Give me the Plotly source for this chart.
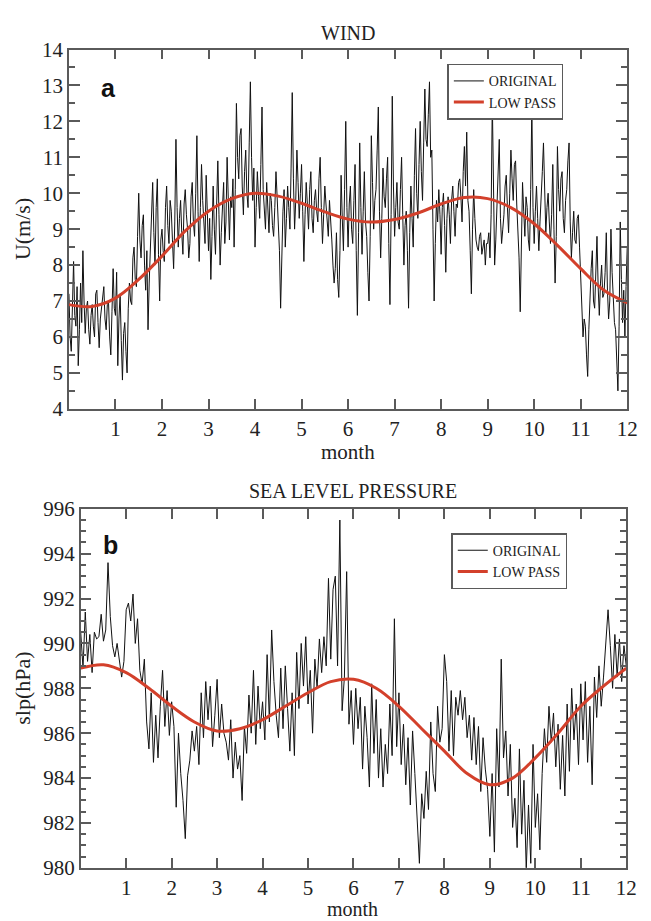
import numpy as np
import plotly.graph_objects as go

# ---------------- data ----------------
# WIND original, 40 samples per month (month 0 .. 12)
wind_original = [
    # month 0
    7.2, 6.0, 5.6, 7.1, 8.1, 6.6, 6.3, 7.4, 5.2, 6.2, 7.5, 6.4, 8.4, 7.0, 6.1, 6.8, 7.0, 6.2, 5.8, 6.6,
    6.9, 6.3, 6.0, 7.2, 7.3, 6.4, 5.7, 6.5, 6.8, 7.1, 7.4, 6.5, 6.2, 6.9, 7.0, 6.0, 5.5, 6.7, 7.9, 6.8,
    # month 1
    6.6, 7.8, 5.2, 6.5, 7.2, 5.9, 4.8, 6.1, 6.4, 5.6, 5.0, 6.8, 7.5, 7.0, 6.9, 8.2, 8.5, 7.6, 7.4, 8.8,
    10.0, 8.7, 8.2, 9.1, 9.4, 8.0, 7.3, 8.4, 6.2, 7.5, 8.6, 9.4, 10.3, 8.9, 8.0, 9.6, 10.4, 8.3, 7.0, 8.7,
    # month 2
    9.0, 8.4, 8.1, 9.6, 10.2, 9.1, 8.6, 9.8, 9.5, 8.7, 7.9, 9.2, 11.5, 9.6, 8.5, 9.3, 9.8, 8.9, 8.3, 9.7,
    10.1, 9.4, 9.0, 8.2, 8.6, 9.9, 10.3, 9.2, 8.8, 10.0, 11.6, 9.5, 8.1, 9.6, 10.8, 9.8, 9.2, 8.6, 10.5, 9.7,
    # month 3
    8.4, 9.3, 7.6, 8.8, 10.2, 9.0, 8.3, 9.7, 10.9, 9.4, 8.0, 8.9, 9.5, 10.3, 8.6, 9.2, 11.0, 9.8, 8.7, 9.9,
    9.6, 10.4, 8.5, 10.1, 12.5, 11.0, 10.4, 11.6, 11.8, 10.2, 9.4, 10.6, 11.2, 10.0, 9.6, 11.4, 13.1, 11.0, 9.8, 10.7,
    # month 4
    8.5, 9.6, 10.6, 9.9, 9.3, 10.8, 12.4, 10.1, 9.4, 9.0, 10.3, 9.7, 8.9, 10.0, 9.8, 9.1, 8.8, 9.6, 10.6, 9.9,
    9.2, 8.4, 6.8, 8.7, 9.5, 10.1, 8.5, 9.3, 10.2, 9.6, 9.0, 10.7, 12.8, 10.4, 9.0, 9.8, 11.2, 10.3, 9.3, 10.0,
    # month 5
    10.8, 9.5, 8.1, 9.4, 10.3, 9.7, 9.0, 10.1, 10.6, 9.3, 8.9, 9.8, 10.1, 9.5, 9.2, 10.4, 11.0, 9.6, 8.6, 9.4,
    10.2, 9.7, 9.1, 8.8, 9.8, 9.0, 8.7, 8.0, 7.5, 7.9, 8.9, 7.6, 7.1, 8.4, 10.5, 9.3, 8.4, 10.1, 12.0, 9.6,
    # month 6
    8.5, 9.7, 10.2, 9.0, 8.6, 9.8, 10.8, 8.4, 6.6, 8.9, 11.4, 9.6, 8.3, 9.5, 10.6, 9.2, 8.8, 7.8, 7.0, 8.8,
    11.6, 10.3, 9.0, 9.8, 10.1, 11.2, 12.4, 9.5, 8.2, 9.3, 10.7, 9.9, 9.6, 10.4, 11.0, 8.6, 6.9, 9.4, 12.7, 10.2,
    # month 7
    8.8, 9.6, 10.3, 9.2, 9.0, 10.1, 11.0, 9.4, 8.0, 9.1, 9.5, 8.4, 6.8, 8.9, 10.2, 9.3, 8.5, 10.5, 11.8, 10.0,
    9.3, 10.8, 12.0, 10.6, 9.8, 11.4, 12.9, 11.5, 11.3, 12.2, 13.1, 11.0, 11.2, 9.0, 7.0, 8.6, 9.8, 9.2, 10.1, 9.4,
    # month 8
    8.3, 9.6, 10.0, 9.1, 7.8, 9.3, 9.9, 9.4, 8.6, 9.8, 10.2, 9.5, 8.8, 9.7, 9.6, 10.3, 10.4, 9.9, 9.2, 10.6,
    11.3, 10.2, 11.7, 9.8, 9.5, 8.4, 7.2, 9.0, 10.1, 9.3, 8.7, 8.5, 8.4, 8.8, 8.9, 8.3, 8.5, 8.7, 8.0, 8.6,
    # month 9
    8.6, 8.9, 8.2, 9.4, 12.6, 9.8, 8.0, 8.7, 9.8, 10.6, 11.5, 9.3, 8.6, 9.0, 9.4, 10.2, 10.5, 9.6, 8.9, 10.0,
    11.2, 10.4, 9.8, 10.8, 10.9, 9.7, 9.1, 8.2, 6.7, 8.9, 10.3, 9.5, 8.8, 9.9, 9.6, 8.7, 8.4, 10.1, 12.4, 9.6,
    # month 10
    8.6, 9.5, 10.2, 9.3, 8.4, 9.2, 9.8, 10.6, 11.4, 9.7, 8.9, 9.6, 10.0, 9.2, 8.6, 9.4, 10.8, 9.0, 7.5, 8.8,
    11.3, 10.1, 9.5, 10.4, 10.6, 9.3, 8.9, 9.8, 10.1, 10.9, 11.4, 9.2, 8.2, 8.9, 9.5, 8.7, 8.6, 9.3, 9.4, 8.5,
    # month 11
    7.6, 6.8, 6.0, 6.5, 6.3, 5.5, 4.9, 6.2, 7.2, 7.9, 8.4, 7.0, 6.8, 7.6, 8.8, 7.4, 6.6, 7.5, 8.0, 7.1,
    7.2, 7.8, 8.9, 7.3, 6.5, 7.0, 9.0, 7.8, 7.1, 6.4, 6.2, 5.4, 4.5, 6.3, 9.2, 7.6, 6.4, 7.3, 6.0, 7.4,
    # month 12
    8.5,
]
# WIND low pass, every half month
wind_lowpass = [6.90, 6.85, 7.08, 7.60, 8.25, 8.95, 9.50, 9.85, 10.00, 9.92, 9.72, 9.48, 9.28,
                9.20, 9.27, 9.45, 9.70, 9.88, 9.85, 9.60, 9.15, 8.55, 7.90, 7.30, 6.95]

# SEA LEVEL PRESSURE original, 20 samples per month
slp_original = [
    990.5, 988.9, 991.4, 989.2, 990.4, 988.7, 990.5, 990.2, 990.3, 991.3, 990.1, 990.6, 993.6, 991.2, 989.9, 989.4, 990.0, 989.3, 988.5, 989.2,
    991.5, 991.8, 991.0, 992.2, 990.0, 991.1, 988.8, 988.2, 989.3, 986.5, 985.3, 987.8, 984.7, 986.8, 984.9, 987.2, 988.8, 986.3, 987.9, 985.9,
    987.4, 986.3, 982.7, 986.0, 984.2, 983.0, 981.3, 984.1, 984.8, 986.1, 985.2, 986.3, 984.6, 987.8, 985.8, 988.3, 986.6, 988.1, 985.4, 986.8,
    988.4, 985.8, 987.3, 986.0, 985.6, 984.8, 986.6, 984.0, 985.6, 984.4, 985.0, 983.0, 986.3, 985.1, 987.7, 986.0, 988.8, 985.5, 988.1, 986.2,
    987.4, 985.7, 989.5, 986.5, 990.6, 988.3, 986.8, 985.8, 988.9, 986.2, 989.0, 987.1, 985.2, 987.8, 985.0, 989.6, 987.1, 990.0, 988.1, 990.3,
    987.3, 988.8, 986.0, 989.3, 988.0, 990.2, 988.7, 990.3, 989.0, 992.9, 989.3, 992.4, 993.0, 989.0, 995.5, 987.0, 988.5, 993.2, 986.4, 987.9,
    985.5, 988.0, 986.2, 987.6, 984.4, 987.2, 985.8, 983.6, 988.2, 985.1, 987.5, 984.0, 986.2, 983.6, 985.5, 984.2, 987.3, 985.0, 991.1, 985.4,
    987.8, 984.6, 986.4, 983.7, 985.8, 982.8, 986.1, 984.2, 982.0, 980.2, 983.3, 982.2, 984.3, 982.6, 986.5, 984.2, 983.4, 987.2, 985.6, 986.2,
    989.5, 988.3, 985.2, 987.9, 985.0, 987.6, 986.8, 987.9, 986.6, 987.6, 985.8, 986.8, 984.8, 986.7, 984.6, 986.3, 983.4, 985.8, 984.4, 983.5,
    981.4, 984.2, 980.7, 986.2, 983.6, 989.3, 984.9, 986.1, 983.2, 985.5, 981.8, 983.1, 980.9, 985.3, 981.5, 983.9, 979.9, 982.8, 980.2, 985.5,
    981.8, 983.3, 980.8, 984.2, 986.2, 984.7, 987.2, 985.6, 986.9, 984.5, 986.4, 983.5, 985.9, 983.2, 987.3, 984.3, 988.0, 985.7, 987.3, 984.6,
    988.2, 985.7, 988.3, 984.7, 987.2, 983.7, 988.5, 986.7, 989.0, 987.2, 988.5, 990.1, 991.5, 989.9, 988.0, 990.4, 988.5, 990.2, 988.3, 989.9,
    989.0,
]
# SEA LEVEL PRESSURE low pass, every half month
slp_lowpass = [988.9, 989.05, 988.7, 988.0, 987.2, 986.5, 986.1, 986.2, 986.6, 987.2, 987.8, 988.3,
               988.4, 988.0, 987.2, 986.2, 985.2, 984.2, 983.7, 984.0, 984.9, 986.0, 987.2, 988.1, 988.9]

month_ticks = [1, 2, 3, 4, 5, 6, 7, 8, 9, 10, 11, 12]
wind_ticks = [4, 5, 6, 7, 8, 9, 10, 11, 12, 13, 14]
slp_ticks = [980, 982, 984, 986, 988, 990, 992, 994, 996]

x_wind = np.arange(len(wind_original)) / 40.0
x_slp = np.arange(len(slp_original)) / 20.0
x_low = np.arange(len(wind_lowpass)) * 0.5

# ---------------- figure ----------------
# the page body has an 8px default margin, so the figure is drawn 8px smaller
OFF = 8
W, H = 651 - OFF, 921 - OFF
SERIF = "Liberation Serif, Times New Roman, serif"
SANS = "Liberation Sans, Arial, sans-serif"
AX = "#5a5a5a"
RED = "#d3402b"


def px_x(v):
    return (v - OFF) / W


def px_y(v):
    return 1 - (v - OFF) / H


fig = go.Figure()
fig.add_trace(go.Scatter(x=x_wind, y=wind_original, mode="lines", name="ORIGINAL",
                         line=dict(color="#111111", width=1), xaxis="x", yaxis="y", legend="legend"))
fig.add_trace(go.Scatter(x=x_low, y=wind_lowpass, mode="lines", name="LOW PASS",
                         line=dict(color=RED, width=3, shape="spline", smoothing=1.0),
                         xaxis="x", yaxis="y", legend="legend"))
fig.add_trace(go.Scatter(x=x_slp, y=slp_original, mode="lines", name="ORIGINAL",
                         line=dict(color="#111111", width=1), xaxis="x2", yaxis="y2", legend="legend2"))
fig.add_trace(go.Scatter(x=x_low, y=slp_lowpass, mode="lines", name="LOW PASS",
                         line=dict(color=RED, width=3, shape="spline", smoothing=1.0),
                         xaxis="x2", yaxis="y2", legend="legend2"))

xcommon = dict(range=[0, 12], tickmode="array", tickvals=month_ticks, ticks="inside", ticklen=10,
               tickwidth=1.5, tickcolor=AX, showline=True, linecolor=AX, linewidth=1.5, mirror="ticks",
               showgrid=False, zeroline=False, tickfont=dict(family=SERIF, size=21, color="#222"))
ycommon = dict(ticks="inside", ticklen=11, tickwidth=1.5, tickcolor=AX, showline=True, linecolor=AX,
               linewidth=1.5, mirror="ticks", showgrid=False, zeroline=False,
               tickfont=dict(family=SERIF, size=21, color="#222"))

legend_common = dict(xanchor="left", yanchor="top", bgcolor="white", bordercolor=AX, borderwidth=1.5,
                     font=dict(family=SERIF, size=14, color="#222"), itemwidth=30, tracegroupgap=0)

fig.update_layout(
    width=W, height=H, margin=dict(l=0, r=0, t=0, b=0),
    paper_bgcolor="white", plot_bgcolor="white", showlegend=True,
    xaxis=dict(domain=[px_x(70), px_x(638)], anchor="y", **xcommon),
    yaxis=dict(domain=[px_y(407.3), px_y(38.3)], anchor="x", range=[4, 14], tickmode="array",
               tickvals=wind_ticks,
               minor=dict(ticks="inside", ticklen=6, tickwidth=1.5, tickcolor=AX, dtick=0.5, showgrid=False),
               **ycommon),
    xaxis2=dict(domain=[px_x(82), px_x(637)], anchor="y2", **xcommon),
    yaxis2=dict(domain=[px_y(878.7), px_y(510)], anchor="x2", range=[980, 996], tickmode="array",
                tickvals=slp_ticks,
                minor=dict(ticks="inside", ticklen=6, tickwidth=1.5, tickcolor=AX, dtick=0.5, showgrid=False),
                **ycommon),
    legend=dict(x=px_x(455), y=px_y(53), **legend_common),
    legend2=dict(x=px_x(459), y=px_y(535), **legend_common),
)

annos = [
    dict(text="WIND", x=px_x(354), y=px_y(21), yanchor="middle", font=dict(family=SERIF, size=20, color="#222")),
    dict(text="month", x=px_x(354), y=px_y(437), yanchor="top", font=dict(family=SERIF, size=21, color="#222")),
    dict(text="U(m/s)", x=px_x(23), y=px_y(223), yanchor="middle", textangle=-90,
         font=dict(family=SERIF, size=22, color="#222")),
    dict(text="<b>a</b>", x=px_x(110), y=px_y(78), yanchor="middle", font=dict(family=SANS, size=25, color="#111")),
    dict(text="SEA LEVEL PRESSURE", x=px_x(359), y=px_y(492), yanchor="middle",
         font=dict(family=SERIF, size=20, color="#222")),
    dict(text="month", x=px_x(359), y=px_y(909), yanchor="top", borderpad=0,
         font=dict(family=SERIF, size=20, color="#222")),
    dict(text="slp(hPa)", x=px_x(23), y=px_y(694), yanchor="middle", textangle=-90,
         font=dict(family=SERIF, size=22, color="#222")),
    dict(text="<b>b</b>", x=px_x(112), y=px_y(547), yanchor="middle", font=dict(family=SANS, size=25, color="#111")),
]
for a in annos:
    fig.add_annotation(xref="paper", yref="paper", showarrow=False, xanchor="center", **a)

fig.write_html("out.html")
